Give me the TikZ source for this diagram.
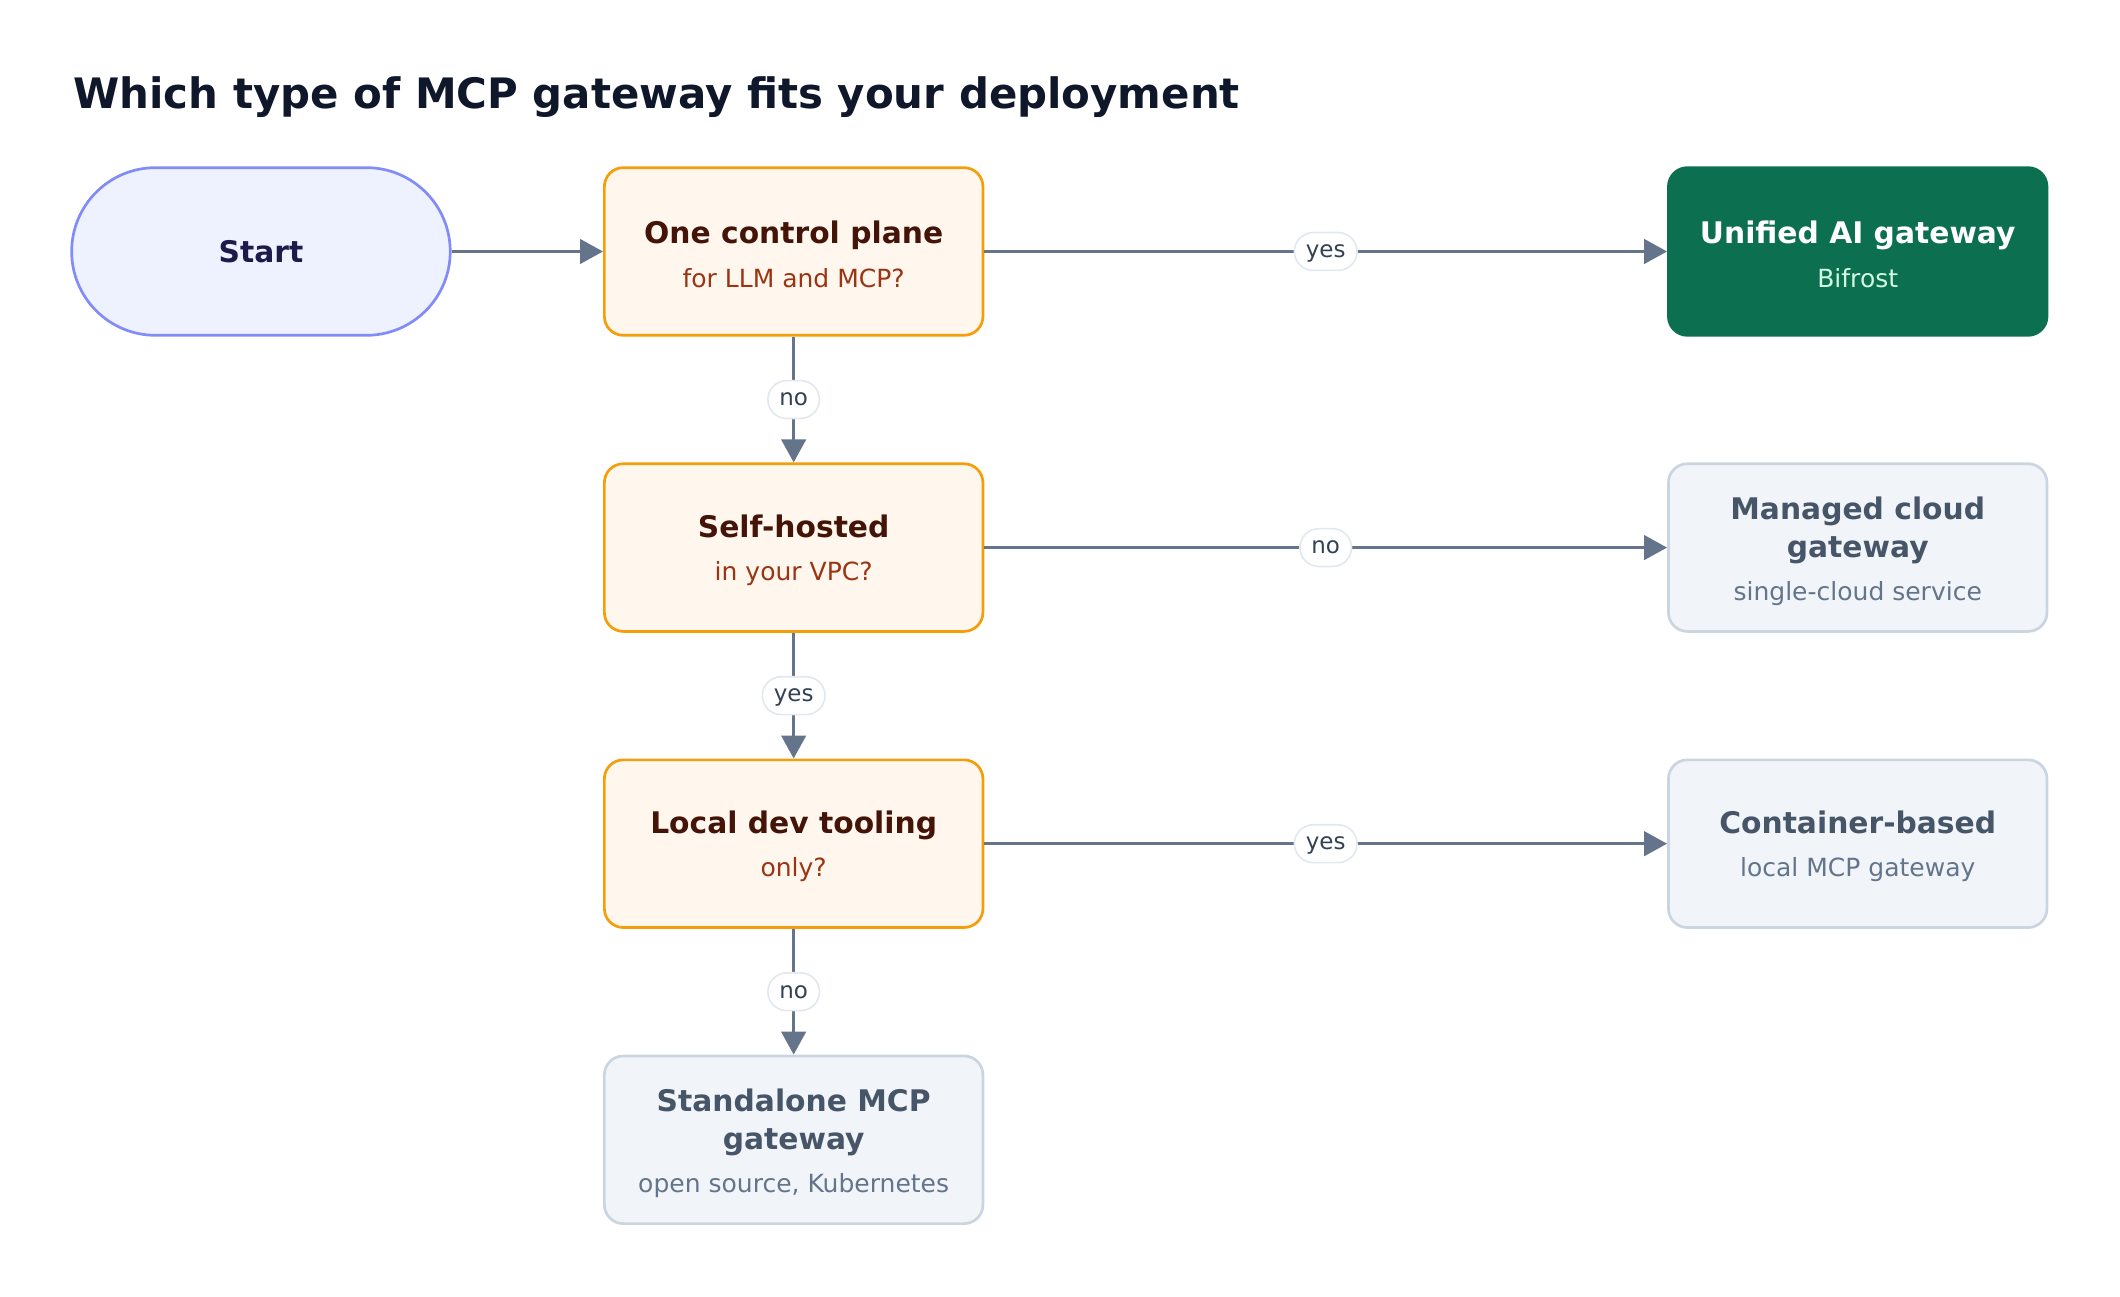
\documentclass[tikz,border=0pt]{standalone}
\usepackage{fontspec}
\setmainfont{DejaVu Sans}
\usetikzlibrary{positioning,arrows.meta}

\definecolor{headtext}{HTML}{0F172A}
\definecolor{sfill}{HTML}{EEF2FF}
\definecolor{sborder}{HTML}{818CF8}
\definecolor{stext}{HTML}{1E1B4B}
\definecolor{qfill}{HTML}{FFF7ED}
\definecolor{qborder}{HTML}{F59E0B}
\definecolor{qtitle}{HTML}{431407}
\definecolor{qsub}{HTML}{9A3412}
\definecolor{ofill}{HTML}{F1F5F9}
\definecolor{oborder}{HTML}{CBD5E1}
\definecolor{otitle}{HTML}{475569}
\definecolor{osub}{HTML}{64748B}
\definecolor{gfill}{HTML}{0C6F50}
\definecolor{gsub}{HTML}{D1FAE5}
\definecolor{edgegray}{HTML}{64748B}
\definecolor{lblborder}{HTML}{E2E8F0}
\definecolor{lbltext}{HTML}{334155}

\newcommand{\subline}[2]{{\normalfont\fontsize{18.5}{28}\selectfont\color{#1}#2}}

\begin{document}
\begin{tikzpicture}[x=1pt, y=1pt, node distance=219pt,
    box/.style={rectangle, rounded corners=14pt, line width=2pt, minimum width=280pt,
        minimum height=124pt, align=center, inner sep=0pt,
        font=\fontsize{22}{28}\selectfont\bfseries},
    startnode/.style={box, rounded corners=62pt, draw=sborder, fill=sfill, text=stext},
    question/.style={box, draw=qborder, fill=qfill, text=qtitle},
    outcome/.style={box, draw=oborder, fill=ofill, text=otitle},
    chosen/.style={box, draw=gfill, fill=gfill, text=white},
    flow/.style={draw=edgegray, line width=2.5pt, -{Triangle[length=17pt,width=18pt]}},
    answer/.style={fill=white, draw=lblborder, line width=1.2pt, rounded corners=14pt,
        minimum height=28pt, inner xsep=8.5pt, inner ysep=0pt, text=lbltext,
        text height=12.5pt, text depth=3.2pt, font=\fontsize{17}{20}\selectfont}]
    \useasboundingbox (0,0) rectangle (1568,-959);

    % Title
    \node[anchor=base west, inner sep=0pt, text=headtext, font=\fontsize{31}{36}\selectfont\bfseries]
        (title) at (54,-80) {Which type of MCP gateway fits your deployment};

    % Start and questions
    \node[startnode] (start) at (193,-186) {Start};
    \node[question, right of=start, xshift=175pt] (plane) {\rule{0pt}{21pt}One control plane\\[4pt]\subline{qsub}{for LLM and MCP?}};
    \node[question, below of=plane] (selfhost) {\rule{0pt}{21pt}Self-hosted\\[4pt]\subline{qsub}{in your VPC?}};
    \node[question, below of=selfhost] (localdev) {\rule{0pt}{21pt}Local dev tooling\\[4pt]\subline{qsub}{only?}};

    % Outcomes
    \node[outcome, below of=localdev] (standalone) {\rule{0pt}{22pt}Standalone MCP\\gateway\\[4pt]\subline{osub}{open source, Kubernetes}};
    \node[chosen, right of=plane, xshift=568pt] (unified) {\rule{0pt}{21pt}Unified AI gateway\\[4pt]\subline{gsub}{Bifrost}};
    \node[outcome, right of=selfhost, xshift=568pt] (managed) {\rule{0pt}{22pt}Managed cloud\\gateway\\[4pt]\subline{osub}{single-cloud service}};
    \node[outcome, right of=localdev, xshift=568pt] (container) {\rule{0pt}{21pt}Container-based\\[4pt]\subline{osub}{local MCP gateway}};

    % Connections
    \draw[flow] (start) -- (plane);
    \draw[flow] (plane) -- node[answer] {yes} (unified);
    \draw[flow] (plane) -- node[answer] {no} (selfhost);
    \draw[flow] (selfhost) -- node[answer] {no} (managed);
    \draw[flow] (selfhost) -- node[answer] {yes} (localdev);
    \draw[flow] (localdev) -- node[answer] {yes} (container);
    \draw[flow] (localdev) -- node[answer] {no} (standalone);
\end{tikzpicture}
\end{document}
